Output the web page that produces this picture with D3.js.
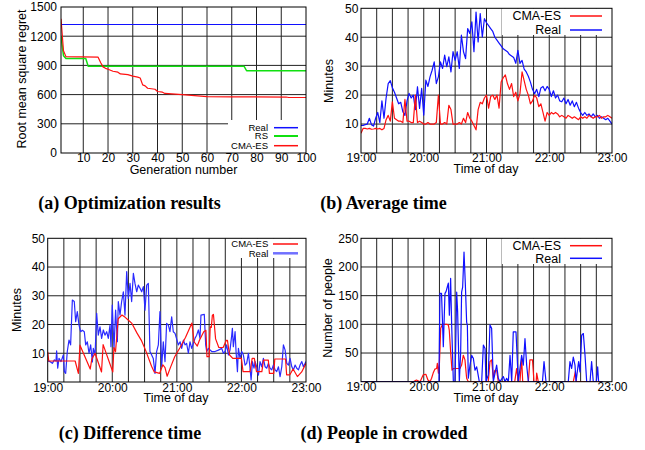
<!DOCTYPE html>
<html>
<head>
<meta charset="utf-8">
<script src="https://cdn.jsdelivr.net/npm/d3@7"></script>
<style>
  body { margin: 0; background: #fff; }
  text { font-family: "Liberation Sans", Arial, sans-serif; }
  .cap { font-family: "Liberation Serif", "Times New Roman", serif; font-weight: bold; }
</style>
</head>
<body>
<svg id="fig" width="645" height="450"></svg>
<script>
// ---- (a) optimization results: [generation, rmse]
const aReal = [[1, 1320], [100, 1320]];
const aRS = [[1, 1200], [2, 1000], [3, 970], [11, 970], [12, 890], [75, 890], [76, 845], [100, 845]];
const aCMA = [[1, 1380], [2, 1050], [3, 990], [16, 985], [17, 930], [18, 885], [19, 870], [20, 860],
  [21, 850], [22, 840], [24, 830], [25, 812], [28, 805], [30, 790], [32, 780], [33, 770], [34, 700],
  [35, 690], [36, 665], [39, 655], [40, 632], [42, 625], [43, 612], [50, 600], [55, 590], [60, 580],
  [70, 577], [92, 575], [93, 570], [100, 570]];
const aXTicks = [10, 20, 30, 40, 50, 60, 70, 80, 90, 100];
const aYTicks = [0, 300, 600, 900, 1200, 1500];

// ---- (b) average time, one value every 2 minutes from 19:00
const bStep = 2;
const bReal = [9.5, 9.5, 9.8, 10, 12, 9.8, 9.3, 12, 14, 10.5, 18, 12, 19, 24, 25, 22.5, 21, 19, 17, 17.5,
  14.3, 13, 18, 20.6, 19, 20, 15, 22.9, 15.4, 22.3,
  13.1, 25.2, 23, 26.3, 28.6, 31.5, 24, 26.3, 31.5, 29.2,
  33.8, 29.8, 33.2, 28, 35, 32, 35, 29.2, 40.7, 35,
  32.6, 43, 41.3, 45.3, 35, 48.7, 38.4, 48.2, 40.1, 46.4,
  45, 44, 43, 42, 40, 39, 38, 37, 36, 35.5,
  35, 34, 33.5, 33, 31, 35.5, 31, 32, 29, 28,
  26.5, 24.5, 22, 20.5, 22, 19.5, 22.5, 23, 21.5, 23,
  22, 19.5, 21.5, 19, 20, 18, 17.7, 19, 17, 18.5,
  16.5, 18, 16, 17.5, 15.5, 14, 13, 14, 13, 13.5,
  12.5, 13.5, 12.5, 13, 12, 12.5, 12, 11.5, 12, 11,
  10];
const bCMA = [6.8, 8.5, 8.5, 8.3, 8.5, 8.2, 8.3, 8.5, 8.3, 8.5,
  8, 8.5, 11.5, 13, 11, 17.7, 12, 11.5, 11, 11,
  10.5, 18.5, 11, 11, 10.5, 10.5, 20, 10.5, 11, 10.5,
  10, 10, 10.5, 10, 10, 10, 10.5, 20, 10, 10,
  10.5, 10, 16.5, 15, 10, 10, 10, 10.5, 10, 12,
  10.5, 14, 12, 11, 9.5, 8, 15, 17.5, 17, 19,
  20, 15.5, 19.5, 20, 18.5, 20, 15.5, 24.5, 26, 27,
  24, 22, 24, 19.5, 21, 18, 20.5, 28, 25, 22,
  20, 17, 18, 20, 19, 16, 17, 14, 11, 14,
  13, 14, 13.5, 14, 13.5, 12.5, 13, 12.5, 12, 13,
  12.5, 12, 12.5, 12, 11.5, 12.5, 12, 12.5, 12, 13,
  12.5, 12, 12.5, 12.5, 13, 12, 12.5, 12.5, 13, 12.5,
  12];

// ---- (c) difference time: [minutes after 19:00, minutes]
const cCMA = [[0, 10.5], [1, 7.3], [25.5, 7.3], [28.5, 3], [30, 12.8], [39.5, 4.5], [41, 8], [44, 10],
  [50, 3.5], [51.5, 13], [60.5, 3.5], [61.5, 12], [63, 10.5], [65.5, 22], [69, 23.3], [72, 22.5],
  [75, 21.5], [78, 20.5], [83, 17], [87, 14.5], [91, 11], [96.5, 5.5], [99, 3.5], [104, 3], [107, 6],
  [109, 5], [111, 2], [114, 5], [118, 8.8], [123, 12], [128, 15.5], [131, 18], [134, 20.5], [136, 14],
  [139, 12.5], [141, 14.5], [143, 16], [145, 17.5], [147, 18], [148, 8.8], [150, 8.8], [151, 19.2],
  [152, 19], [153, 23.2], [154, 23.5], [156, 15], [159, 12], [163, 12], [166, 14.5], [167, 14.5],
  [169, 9.4], [172, 8.2], [180, 8.2], [181.5, 3.6], [188, 3.6], [190, 8.2], [192, 8.2], [194, 3.6],
  [199, 3.6], [200.5, 7.6], [205, 7.6], [206, 3], [210, 3], [211, 8], [221, 8], [222, 2.5], [225, 2.5],
  [228, 4.5], [232, 1.9], [236, 3.5], [240, 6.5]];
const cReal = [[0, 7.3], [2.1, 7.1], [4.3, 6.5], [6.2, 7.7], [7.7, 7.3], [8.3, 10.8], [9.3, 4.8],
  [10.5, 8.2], [12.4, 7.1], [14.5, 9.4], [15.5, 3.6], [16.7, 3], [18.2, 10.6], [19.8, 14.6], [21.3, 12.9],
  [22.9, 28.5], [24.7, 28], [26, 21], [27.5, 24.5], [29.1, 19.8], [30.6, 17.5], [32.2, 18], [34, 17.5],
  [35.3, 12.9], [36.8, 14], [38.4, 10], [39.9, 12.9], [41.5, 7], [42.4, 11.7], [44, 9.4], [45.5, 23.9],
  [47, 16.3], [48.6, 19.2], [50.1, 15.2], [51.7, 18.1], [53.2, 16.3], [54.8, 17.5], [56.3, 15.2],
  [57.9, 19.8], [58.8, 12.3], [60, 26.8], [61.6, 11.7], [63.1, 25], [64.7, 14], [65.6, 28], [67.2, 23.3],
  [68.7, 28], [70.3, 31.4], [71.8, 23.3], [73.4, 38.4], [74.9, 29.1], [76.5, 34.3], [78, 28],
  [79.6, 37.8], [81.1, 34.3], [82.7, 31.4], [84.2, 33.7], [85.8, 32.6], [87.3, 31.4], [88.9, 33.2],
  [90.4, 25], [92, 33.7], [93.5, 34.3], [95, 10.6], [96.6, 9.4], [98.1, 8.2], [99.7, 3], [101.2, 10.6],
  [102.8, 12.9], [104.3, 24.5], [105.9, 5.3], [107.4, 14], [109, 7.1], [110.5, 20.4], [112.1, 19.8],
  [113.6, 17.5], [115.2, 22.7], [116.7, 17.5], [118.3, 16.9], [121.4, 12.9], [123, 14], [124.5, 11.7],
  [126.1, 14.6], [127.6, 12.9], [129.1, 13.4], [130.7, 10], [132.2, 14], [133.8, 11.7], [135.3, 13.4],
  [136.9, 15.2], [138.4, 16.3], [140, 18.1], [141.5, 15.2], [142.4, 23.3], [145.5, 23.5], [146.8, 12.9],
  [147.7, 10.6], [149.3, 11.7], [152.4, 10.6], [155.5, 10.6], [158.6, 11.1], [161.7, 11.7], [163.2, 10],
  [164.8, 10.6], [166.3, 12.9], [167.9, 9.4], [169.4, 11.1], [171, 16.3], [171.6, 18.7], [172.5, 12.3],
  [174.1, 17.5], [175, 10.6], [176.3, 3.6], [177.2, 11.7], [178.7, 8.2], [180.3, 10.6], [181.8, 9.4],
  [183.4, 5.9], [184.9, 6.5], [186.5, 10], [188, 4.8], [189, 0.7], [190.2, 7.1], [191.7, 4.8],
  [192.7, 7.1], [194.2, 5.3], [195.8, 2.4], [197.3, 7.1], [198.9, 5.3], [200.4, 8.2], [202, 5.3],
  [203.5, 4.8], [205.1, 6.5], [206.6, 4.8], [208.2, 4.2], [209.7, 5.9], [211.3, 4.2], [212.8, 3.6],
  [214.4, 5.3], [215.9, 1.9], [217.5, 5.3], [219, 12.9], [220.6, 11.1], [222.1, 6.5], [223.7, 5.9],
  [225.2, 8.2], [226.8, 5.3], [228.3, 4.2], [229.9, 5.9], [231.4, 4.8], [233, 4.2], [234.5, 5.9],
  [236.1, 7.1], [237.6, 5.3], [239.2, 6.5], [240, 7.1]];

// ---- (d) people in crowded: [minutes after 19:00, people]
const dCMA = [[0, 0], [50, 0], [53, 3], [56.5, 0], [59.5, 12], [62, 13], [64, 3], [66, 0], [67.5, 6],
  [69, 15], [70.7, 22], [72.3, 23], [73, 32], [74, 15], [75, 32], [76.2, 93], [78, 100], [82, 100],
  [83.5, 99], [84.4, 90], [85.7, 52], [87, 20], [88.3, 23], [94.6, 23], [96.2, 29], [97.8, 46],
  [99.4, 38], [101, 6], [102.6, 0], [121.7, 0], [123.3, 35], [124.9, 38], [126.5, 6], [128, 20],
  [129.7, 20], [131.3, 0], [147, 0], [148.8, 23], [150.4, 0], [152, 0], [153.6, 41], [154.6, 0],
  [160, 0], [161.5, 38], [164, 38], [165.4, 0], [167.5, 0], [168, 15], [169.5, 0], [203, 0],
  [205, 18], [206, 0], [231, 0]];
const dReal = [[0, 0], [66, 0], [74.5, 0], [75.5, 154], [77, 154], [78.7, 61], [80.3, 154], [81.3, 157],
  [82.9, 168], [83.5, 172], [84.5, 116], [85.7, 180], [86.7, 98], [88.3, 0], [89.9, 0], [91.5, 156],
  [92.4, 122], [94, 0], [95.3, 52], [96.2, 156], [97.2, 165], [98.5, 226], [99.8, 168], [101, 104],
  [101.7, 98], [102.6, 6], [104.2, 29], [105.8, 46], [107.4, 41], [109, 20], [110.6, 26], [111.5, 17],
  [113.1, 0], [115.4, 0], [117, 64], [118.6, 58], [119.5, 0], [121.7, 12], [123.3, 99], [124.9, 93],
  [126.5, 0], [129.7, 29], [131.3, 6], [132.9, 0], [136.1, 9], [137.7, 0], [139.3, 6], [140.9, 0],
  [142.5, 46], [144.1, 0], [145.6, 87], [148.2, 87], [150.4, 0], [152, 23], [153.6, 46], [155.2, 29],
  [156.8, 75], [158.4, 29], [160, 0], [173.5, 0], [175, 35], [176.9, 0], [198.2, 0], [199.8, 35],
  [201.4, 23], [203, 43], [204.6, 29], [205.6, 0], [207.2, 23], [208.1, 35], [209.4, 17], [211, 81],
  [212.6, 84], [214.2, 46], [215.8, 0], [219, 0], [220.5, 35], [222.1, 0], [225, 0], [226.3, 26],
  [227.2, 0], [231, 0]];

const minuteTicks = [10, 20, 30, 40, 50];
const peopleTicks = [50, 100, 150, 200, 250];

// ---------------------------------------------------------------
const svg = d3.select("#fig");
const defs = svg.append("defs");
const base = new Date(2020, 0, 1, 19, 0);
const at = m => new Date(base.getTime() + m * 60000);
const tEnd = at(240);
const hhmm = d3.timeFormat("%H:%M");
const RED = "#ff1010", BLUE = "#1010ff", GREEN = "#10e010";

function panel(cfg) {
  const g = svg.append("g");
  const x = cfg.x, y = cfg.y;
  const [xa, xb] = x.range(), [yb, ya] = y.range();

  defs.append("clipPath").attr("id", "clip-" + cfg.id)
    .append("rect").attr("x", xa).attr("y", ya).attr("width", xb - xa).attr("height", yb - ya);

  // grid
  g.append("g").selectAll("line").data(cfg.xGrid).join("line")
    .attr("x1", d => x(d)).attr("x2", d => x(d)).attr("y1", ya).attr("y2", yb)
    .attr("stroke", "#222").attr("stroke-width", 1);
  g.append("g").selectAll("line").data(cfg.yGrid).join("line")
    .attr("x1", xa).attr("x2", xb).attr("y1", d => y(d)).attr("y2", d => y(d))
    .attr("stroke", "#222").attr("stroke-width", 1);

  // legend background (hides the grid under it)
  const lg = cfg.legend;
  g.append("rect").attr("x", lg.left).attr("y", lg.top).attr("width", xb - lg.left).attr("height", lg.bottom - lg.top)
    .attr("fill", "#fff");

  // series
  const line = d3.line().x(d => x(d[0])).y(d => y(d[1]));
  g.append("g").attr("clip-path", `url(#clip-${cfg.id})`)
    .selectAll("path").data(cfg.series).join("path")
    .attr("d", s => line(s.data))
    .attr("fill", "none").attr("stroke", s => s.color).attr("stroke-width", s => s.width || 1.2)
    .attr("stroke-linejoin", "round");

  // legend entries
  lg.rows.forEach(r => {
    g.append("text").attr("x", lg.textRight).attr("y", r.y).attr("dy", "0.35em")
      .attr("text-anchor", "end").attr("font-size", lg.size).text(r.label);
    g.append("line").attr("x1", lg.l1).attr("x2", lg.l2).attr("y1", r.y).attr("y2", r.y)
      .attr("stroke", r.color).attr("stroke-width", r.width || 1.5);
  });

  // axes
  const bx = g.append("g").attr("transform", `translate(0,${yb})`)
    .call(d3.axisBottom(x).tickValues(cfg.xTicks).tickFormat(cfg.xFormat).tickSize(0).tickPadding(cfg.xPad));
  const ly = g.append("g").attr("transform", `translate(${xa},0)`)
    .call(d3.axisLeft(y).tickValues(cfg.yTicks).tickFormat(d3.format("d")).tickSize(0).tickPadding(cfg.yPad));
  [bx, ly].forEach(a => {
    a.select(".domain").remove();
    a.selectAll("text").attr("font-size", 12).attr("fill", "#000")
      .attr("font-family", '"Liberation Sans", Arial, sans-serif');
  });

  // frame
  g.append("rect").attr("x", xa).attr("y", ya).attr("width", xb - xa).attr("height", yb - ya)
    .attr("fill", "none").attr("stroke", "#000").attr("stroke-width", 1);

  // axis titles
  g.append("text").attr("x", cfg.xTitle[1]).attr("y", cfg.xTitle[2]).attr("text-anchor", "middle")
    .attr("font-size", 12.5).text(cfg.xTitle[0]);
  g.append("text").attr("transform", `translate(${cfg.yTitle[1]},${cfg.yTitle[2]}) rotate(-90)`)
    .attr("text-anchor", "middle").attr("dy", "0.35em").attr("font-size", 12.5).text(cfg.yTitle[0]);
}

const quarters = d3.timeMinute.every(15).range(at(1), tEnd);
const hours = d3.timeHour.every(1).range(base, at(241));
const toTime = (arr, step) => arr.map((v, i) => [at(i * step), v]);
const pairsToTime = arr => arr.map(d => [at(d[0]), d[1]]);

// (a)
panel({
  id: "a",
  x: d3.scaleLinear().domain([1, 100]).range([61, 306]),
  y: d3.scaleLinear().domain([0, 1500]).range([153, 7]),
  xGrid: aXTicks.slice(0, -1), yGrid: aYTicks.slice(1, -1),
  xTicks: aXTicks, xFormat: d3.format("d"), xPad: 0,
  yTicks: aYTicks, yPad: 4,
  series: [
    { data: aReal, color: BLUE },
    { data: aRS, color: GREEN, width: 1.5 },
    { data: aCMA, color: RED }
  ],
  legend: {
    left: 228, top: 120, bottom: 153, textRight: 268, l1: 274, l2: 298, size: 9.5,
    rows: [
      { label: "Real", color: BLUE, y: 127.7 },
      { label: "RS", color: GREEN, y: 136, width: 2 },
      { label: "CMA-ES", color: RED, y: 145.7 }
    ]
  },
  xTitle: ["Generation number", 183.5, 173.5],
  yTitle: ["Root mean square regret", 21.5, 79]
});

// (b)
panel({
  id: "b",
  x: d3.scaleTime().domain([base, tEnd]).range([361, 612]),
  y: d3.scaleLinear().domain([0, 50]).range([153, 8.3]),
  xGrid: quarters, yGrid: minuteTicks.slice(0, -1),
  xTicks: hours, xFormat: hhmm, xPad: 0.5,
  yTicks: minuteTicks, yPad: 2.7,
  series: [
    { data: toTime(bReal, bStep), color: BLUE },
    { data: toTime(bCMA, bStep), color: RED }
  ],
  legend: {
    left: 502, top: 8.3, bottom: 35, textRight: 561, l1: 570, l2: 602, size: 12.5,
    rows: [
      { label: "CMA-ES", color: RED, y: 16 },
      { label: "Real", color: BLUE, y: 30 }
    ]
  },
  xTitle: ["Time of day", 486, 173],
  yTitle: ["Minutes", 329, 81]
});

// (c)
panel({
  id: "c",
  x: d3.scaleTime().domain([base, tEnd]).range([47.7, 306]),
  y: d3.scaleLinear().domain([0, 50]).range([382, 238.3]),
  xGrid: quarters, yGrid: minuteTicks.slice(0, -1),
  xTicks: hours, xFormat: hhmm, xPad: 1.8,
  yTicks: minuteTicks, yPad: 2.7,
  series: [
    { data: pairsToTime(cReal), color: "#2a2aff" },
    { data: pairsToTime(cCMA), color: RED }
  ],
  legend: {
    left: 226.7, top: 238.3, bottom: 258, textRight: 268.3, l1: 273, l2: 298, size: 9.5,
    rows: [
      { label: "CMA-ES", color: RED, y: 244 },
      { label: "Real", color: "#7070ff", y: 253.3, width: 2.5 }
    ]
  },
  xTitle: ["Time of day", 176, 402],
  yTitle: ["Minutes", 16.7, 310]
});

// (d)
panel({
  id: "d",
  x: d3.scaleTime().domain([base, tEnd]).range([361, 612]),
  y: d3.scaleLinear().domain([0, 250]).range([381.7, 238.3]),
  xGrid: quarters, yGrid: peopleTicks.slice(0, -1),
  xTicks: hours, xFormat: hhmm, xPad: 1.2,
  yTicks: peopleTicks, yPad: 2.7,
  series: [
    { data: pairsToTime(dCMA), color: RED },
    { data: pairsToTime(dReal), color: BLUE }
  ],
  legend: {
    left: 502, top: 238.3, bottom: 264, textRight: 561, l1: 570, l2: 602, size: 12.5,
    rows: [
      { label: "CMA-ES", color: RED, y: 245.7 },
      { label: "Real", color: BLUE, y: 258.3 }
    ]
  },
  xTitle: ["Time of day", 486, 402],
  yTitle: ["Number of people", 327.5, 308]
});

// captions
const captions = [
  ["(a) Optimization results", 129.5, 209.3],
  ["(b) Average time", 383.5, 209.3],
  ["(c) Difference time", 130, 439.3],
  ["(d) People in crowded", 384, 439.3]
];
svg.selectAll("text.cap").data(captions).join("text").attr("class", "cap")
  .attr("x", d => d[1]).attr("y", d => d[2]).attr("text-anchor", "middle")
  .attr("font-size", 18).text(d => d[0]);
</script>
</body>
</html>
